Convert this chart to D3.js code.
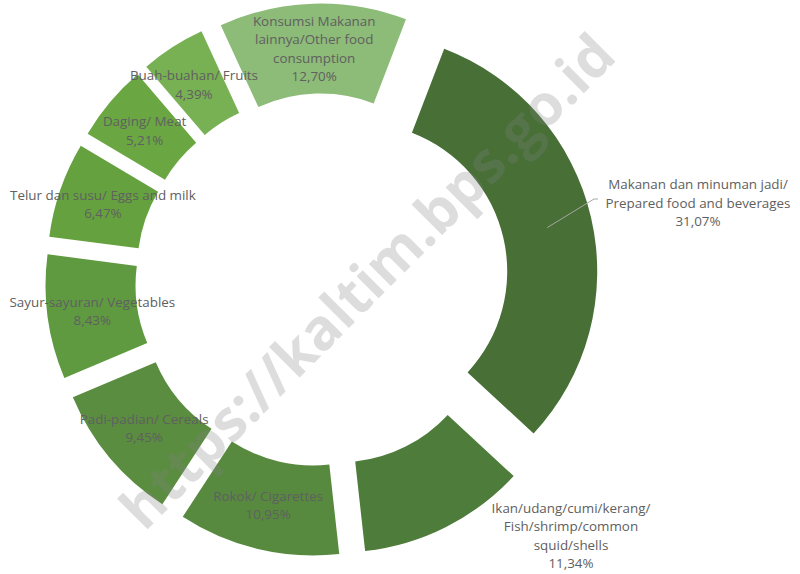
<!DOCTYPE html>
<html>
<head>
<meta charset="utf-8">
<script src="https://cdn.jsdelivr.net/npm/d3@7"></script>
<style>
  body { margin: 0; background: #fff; }
  svg { display: block; }
</style>
</head>
<body>
<div id="chart"></div>
<script>
// chart size
const width = 800;
const height = 574;

// data, clockwise from the first slice
const categories = [
  "Makanan dan minuman jadi/\nPrepared food and beverages",
  "Ikan/udang/cumi/kerang/\nFish/shrimp/common\nsquid/shells",
  "Rokok/ Cigarettes",
  "Padi-padian/ Cereals",
  "Sayur-sayuran/ Vegetables",
  "Telur dan susu/ Eggs and milk",
  "Daging/ Meat",
  "Buah-buahan/ Fruits",
  "Konsumsi Makanan\nlainnya/Other food\nconsumption"
];
const shares = [31.07, 11.34, 10.95, 9.45, 8.43, 6.47, 5.21, 4.39, 12.70];
const colors = ["#476f36", "#4e7c3a", "#578a3f", "#5a8d3f", "#5f9a40", "#65a23f", "#6aa742", "#78b153", "#8dbb78"];

// geometry
const cx = 321.7, cy = 280;
const innerR = 148.5, outerR = 238.5;
const explode = 38;
const lineH = 18.5;

// labels that sit outside / off the centroid
const labelAt = {
  0: {x: 698, y: 203, leader: true},
  1: {x: 571, y: 536},
  7: {dx: -3, dy: 0}
};

const fmt = v => d3.format(".2f")(v).replace(".", ",") + "%";

const svg = d3.select("#chart")
  .append("svg")
  .attr("width", width)
  .attr("height", height);

const g = svg.append("g").attr("transform", `translate(${cx},${cy})`);

const pie = d3.pie()
  .sort(null)
  .value(d => d)
  .startAngle(21 * Math.PI / 180)
  .endAngle(21 * Math.PI / 180 + 2 * Math.PI);

const arc = d3.arc().innerRadius(innerR).outerRadius(outerR);

const arcs = pie(shares);

// offset of each exploded slice
function shift(d) {
  const a = (d.startAngle + d.endAngle) / 2;
  return [explode * Math.sin(a), -explode * Math.cos(a)];
}

g.selectAll("path.slice")
  .data(arcs)
  .enter()
  .append("path")
  .attr("class", "slice")
  .attr("d", arc)
  .attr("transform", d => { const s = shift(d); return `translate(${s[0]},${s[1]})`; })
  .style("fill", (d, i) => colors[i]);

// watermark
svg.append("text")
  .attr("transform", "translate(366,280) rotate(-45)")
  .attr("text-anchor", "middle")
  .attr("dominant-baseline", "central")
  .style("font-family", "'Open Sans', sans-serif")
  .style("font-weight", "bold")
  .style("font-size", "57px")
  .style("fill", "#808080")
  .style("fill-opacity", 0.27)
  .text("https://kaltim.bps.go.id");

// labels
const labels = svg.append("g")
  .style("font-family", "'Open Sans', sans-serif")
  .style("font-size", "13.4px")
  .style("fill", "#606060");

arcs.forEach((d, i) => {
  const c = arc.centroid(d);
  const s = shift(d);
  let x = cx + c[0] + s[0], y = cy + c[1] + s[1];
  const o = labelAt[i];
  if (o && o.x !== undefined) {
    if (o.leader) {
      svg.append("polyline")
        .attr("points", [[x, y], [o.x - 104, o.y - 4], [o.x - 100, o.y - 4]].map(p => p.join(",")).join(" "))
        .style("fill", "none")
        .style("stroke", "#a6a6a6")
        .style("stroke-width", 1);
    }
    x = o.x; y = o.y;
  } else if (o) {
    x += o.dx; y += o.dy;
  }
  const lines = categories[i].split("\n").concat([fmt(shares[i])]);
  const top = y - (lines.length - 1) * lineH / 2;
  const t = labels.append("text")
    .attr("text-anchor", "middle");
  lines.forEach((ln, k) => {
    t.append("tspan")
      .attr("x", x)
      .attr("y", top + k * lineH)
      .attr("dy", "0.35em")
      .text(ln);
  });
});
</script>
</body>
</html>
